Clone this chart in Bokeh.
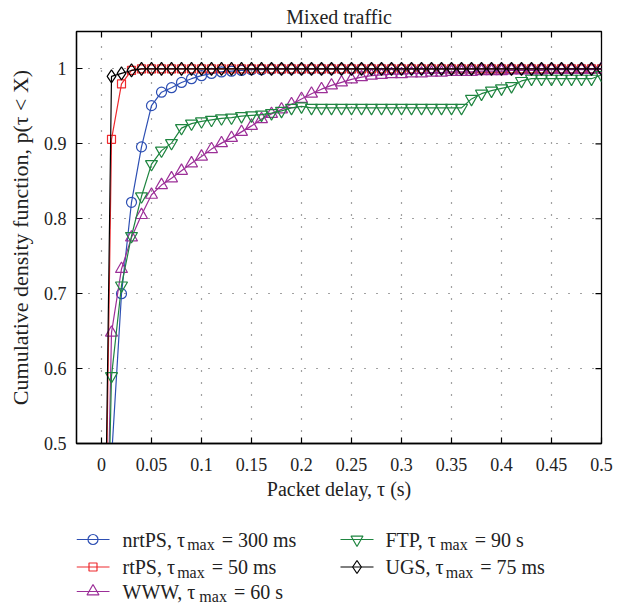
import math
from bokeh.plotting import figure
from bokeh.models import Range1d, FixedTicker
from bokeh.layouts import column
from bokeh.embed import file_html
from bokeh.resources import INLINE
from bokeh.core.properties import value

# ---------------- data ----------------
delay = [0.00, 0.01, 0.02, 0.03, 0.04, 0.05, 0.06, 0.07, 0.08, 0.09,
         0.10, 0.11, 0.12, 0.13, 0.14, 0.15, 0.16, 0.17, 0.18, 0.19,
         0.20, 0.21, 0.22, 0.23, 0.24, 0.25, 0.26, 0.27, 0.28, 0.29,
         0.30, 0.31, 0.32, 0.33, 0.34, 0.35, 0.36, 0.37, 0.38, 0.39,
         0.40, 0.41, 0.42, 0.43, 0.44, 0.45, 0.46, 0.47, 0.48, 0.49,
         0.50]

nrtps = [0.000, 0.480, 0.700, 0.822, 0.896, 0.951, 0.969, 0.975, 0.982, 0.987,
         0.991, 0.994, 0.996, 0.997, 0.998, 0.999, 0.999, 1.000, 1.000, 1.000,
         1.000, 1.000, 1.000, 1.000, 1.000, 1.000, 1.000, 1.000, 1.000, 1.000,
         1.000, 1.000, 1.000, 1.000, 1.000, 1.000, 1.000, 1.000, 1.000, 1.000,
         1.000, 1.000, 1.000, 1.000, 1.000, 1.000, 1.000, 1.000, 1.000, 1.000,
         1.000]

rtps = [0.000, 0.906, 0.980, 0.998, 1.000, 1.000, 1.000, 1.000, 1.000, 1.000,
        1.000, 1.000, 1.000, 1.000, 1.000, 1.000, 1.000, 1.000, 1.000, 1.000,
        1.000, 1.000, 1.000, 1.000, 1.000, 1.000, 1.000, 1.000, 1.000, 1.000,
        1.000, 1.000, 1.000, 1.000, 1.000, 1.000, 1.000, 1.000, 1.000, 1.000,
        1.000, 1.000, 1.000, 1.000, 1.000, 1.000, 1.000, 1.000, 1.000, 1.000,
        1.000]

www = [0.000, 0.648, 0.733, 0.775, 0.805, 0.832, 0.845, 0.854, 0.864, 0.874,
       0.883, 0.893, 0.901, 0.908, 0.916, 0.924, 0.933, 0.940, 0.946, 0.953,
       0.960, 0.967, 0.973, 0.978, 0.982, 0.986, 0.989, 0.991, 0.992, 0.993,
       0.993, 0.994, 0.994, 0.995, 0.995, 0.996, 0.996, 0.996, 0.997, 0.997,
       0.997, 0.998, 0.998, 0.998, 0.998, 0.999, 0.999, 0.999, 0.999, 0.999,
       1.000]

ftp = [0.000, 0.590, 0.711, 0.777, 0.830, 0.873, 0.891, 0.901, 0.921, 0.927,
       0.930, 0.932, 0.934, 0.935, 0.937, 0.938, 0.939, 0.941, 0.944, 0.948,
       0.950, 0.948, 0.948, 0.948, 0.948, 0.948, 0.948, 0.948, 0.948, 0.948,
       0.948, 0.948, 0.948, 0.948, 0.948, 0.948, 0.948, 0.960, 0.967, 0.971,
       0.974, 0.977, 0.984, 0.987, 0.987, 0.987, 0.987, 0.987, 0.987, 0.987,
       0.992]

ugs = [0.000, 0.990, 0.994, 0.998, 1.000, 1.000, 1.000, 1.000, 1.000, 1.000,
       1.000, 1.000, 1.000, 1.000, 1.000, 1.000, 1.000, 1.000, 1.000, 1.000,
       1.000, 1.000, 1.000, 1.000, 1.000, 1.000, 1.000, 1.000, 1.000, 1.000,
       1.000, 1.000, 1.000, 1.000, 1.000, 1.000, 1.000, 1.000, 1.000, 1.000,
       1.000, 1.000, 1.000, 1.000, 1.000, 1.000, 1.000, 1.000, 1.000, 1.000,
       1.000]

x_ticks = [0, 0.05, 0.1, 0.15, 0.2, 0.25, 0.3, 0.35, 0.4, 0.45, 0.5]
x_tick_labels = ["0", "0.05", "0.1", "0.15", "0.2", "0.25", "0.3", "0.35", "0.4", "0.45", "0.5"]
y_ticks = [0.5, 0.6, 0.7, 0.8, 0.9, 1.0]
y_tick_labels = ["0.5", "0.6", "0.7", "0.8", "0.9", "1"]

series_names = ["nrtPS, τ", "rtPS, τ", "WWW, τ", "FTP, τ", "UGS, τ"]
series_limits = ["= 300 ms", "= 50 ms", "= 60 s", "= 90 s", "= 75 ms"]
series_values = [nrtps, rtps, www, ftp, ugs]
series_colors = ["#2d4fb3", "#ee2a2e", "#9c2f98", "#1f8540", "#000000"]
series_markers = ["circle", "square", "triangle", "inverted_triangle", "diamond"]
series_sizes = [10, 8, 12, 12, 13]

FONT = "Liberation Serif"
TXT = "#222222"
W = 617
BL, BR = 76, 16          # left / right borders shared by both panels
BT, BB = 29, 63
H = 506

# ---------------- main plot ----------------
xr = Range1d(-0.025, 0.5)
yr = Range1d(0.5, 1.05)
p = figure(width=W, height=H, x_range=xr, y_range=yr,
           output_backend="svg", toolbar_location=None,
           min_border_left=BL, min_border_right=BR,
           min_border_top=BT, min_border_bottom=BB,
           title="Mixed traffic")
p.title.text_font = FONT
p.title.text_font_size = "20px"
p.title.text_font_style = "normal"
p.title.text_color = TXT
p.title.align = "center"
p.title.standoff = 7
p.title.offset = 0

p.outline_line_color = "black"
p.outline_line_width = 1.3

for g, t in ((p.xgrid, x_ticks), (p.ygrid, y_ticks)):
    g.ticker = FixedTicker(ticks=t)
    g.grid_line_color = "#444444"
    g.grid_line_dash = "1 11"
    g.grid_line_width = 1.2

ax = p.xaxis[0]
ax.ticker = FixedTicker(ticks=x_ticks)
ax.major_label_overrides = {t: l for t, l in zip(x_ticks, x_tick_labels)}
ax.axis_label = "Packet delay, τ (s)"
ay = p.yaxis[0]
ay.ticker = FixedTicker(ticks=y_ticks)
ay.major_label_overrides = {t: l for t, l in zip(y_ticks, y_tick_labels)}
ay.axis_label = "Cumulative density function, p(τ < X)"

for a in (ax, ay):
    a.major_tick_in = 6
    a.major_tick_out = 0
    a.minor_tick_line_color = None
    a.axis_line_color = "black"
    a.axis_line_width = 1.3
    a.major_tick_line_width = 1.2
    a.major_label_text_font = FONT
    a.major_label_text_font_size = "18px"
    a.major_label_text_color = TXT
    a.axis_label_text_font = FONT
    a.axis_label_text_font_style = "normal"
    a.axis_label_text_color = TXT
ax.axis_label_text_font_size = "20px"
ay.axis_label_text_font_size = "22px"
ax.major_label_standoff = 14
ax.axis_label_standoff = 4
ay.major_label_standoff = 10
ay.axis_label_standoff = 8

# inward ticks on the top and right edges of the frame (half of each dash is clipped)
p.scatter(x=x_ticks, y=[yr.end] * len(x_ticks), marker="dash", angle=math.pi / 2,
          size=12, line_color="black", line_width=1.2)
p.scatter(x=[xr.end] * len(y_ticks), y=y_ticks, marker="dash", angle=0,
          size=12, line_color="black", line_width=1.2)

for vals, col, mk, sz in zip(series_values, series_colors, series_markers, series_sizes):
    p.line(delay, vals, line_color=col, line_width=1.2)
    p.scatter(delay, vals, marker=mk, size=sz, line_color=col,
              fill_color=None, line_width=1.2)

# ---------------- legend panel (frame-aligned with the plot) ----------------
FW = W - BL - BR
LH = 606 - H
lf = figure(width=W, height=LH, x_range=Range1d(0, FW), y_range=Range1d(LH, 0),
            output_backend="svg", toolbar_location=None,
            x_axis_type=None, y_axis_type=None,
            min_border_left=BL, min_border_right=BR,
            min_border_top=0, min_border_bottom=0,
            outline_line_color=None)
lf.grid.visible = False

char_w = {'n': .5, 'r': .333, 't': .278, 'P': .556, 'S': .556, ',': .25, ' ': .25,
          'W': .944, 'F': .556, 'T': .611, 'U': .722, 'G': .722, 'm': .778,
          'a': .444, 'x': .5, 'τ': .46}

def text_w(s, size):
    return sum(char_w.get(c, .5) for c in s) * size

col_glyph_x = [0, 264]
col_text_x = [46, 309]
row_y = [33, 60.5, 85]
slots = [(0, 0), (0, 1), (0, 2), (1, 0), (1, 1)]
MAIN, SUB = 20, 16

for i, (c, r) in enumerate(slots):
    col = series_colors[i]
    gx, y = col_glyph_x[c], row_y[r]
    lf.segment(x0=[gx], y0=[y], x1=[gx + 33], y1=[y], line_color=col, line_width=1.2)
    lf.scatter(x=[gx + 16.5], y=[y], marker=series_markers[i], size=series_sizes[i],
               line_color=col, fill_color=None, line_width=1.2)
    tx = col_text_x[c]
    name = series_names[i]
    lf.text(x=[tx], y=[y], text=[name], text_font=value(FONT),
            text_font_size=f"{MAIN}px", text_baseline="middle", text_color=TXT)
    sx = tx + text_w(name, MAIN) + 1
    lf.text(x=[sx], y=[y + 5], text=["max"], text_font=value(FONT),
            text_font_size=f"{SUB}px", text_baseline="middle", text_color=TXT)
    rx = sx + text_w("max", SUB) + 7
    lf.text(x=[rx], y=[y], text=[series_limits[i]], text_font=value(FONT),
            text_font_size=f"{MAIN}px", text_baseline="middle", text_color=TXT)

layout = column(p, lf, spacing=0)
open("out.html", "w").write(file_html(layout, INLINE))
